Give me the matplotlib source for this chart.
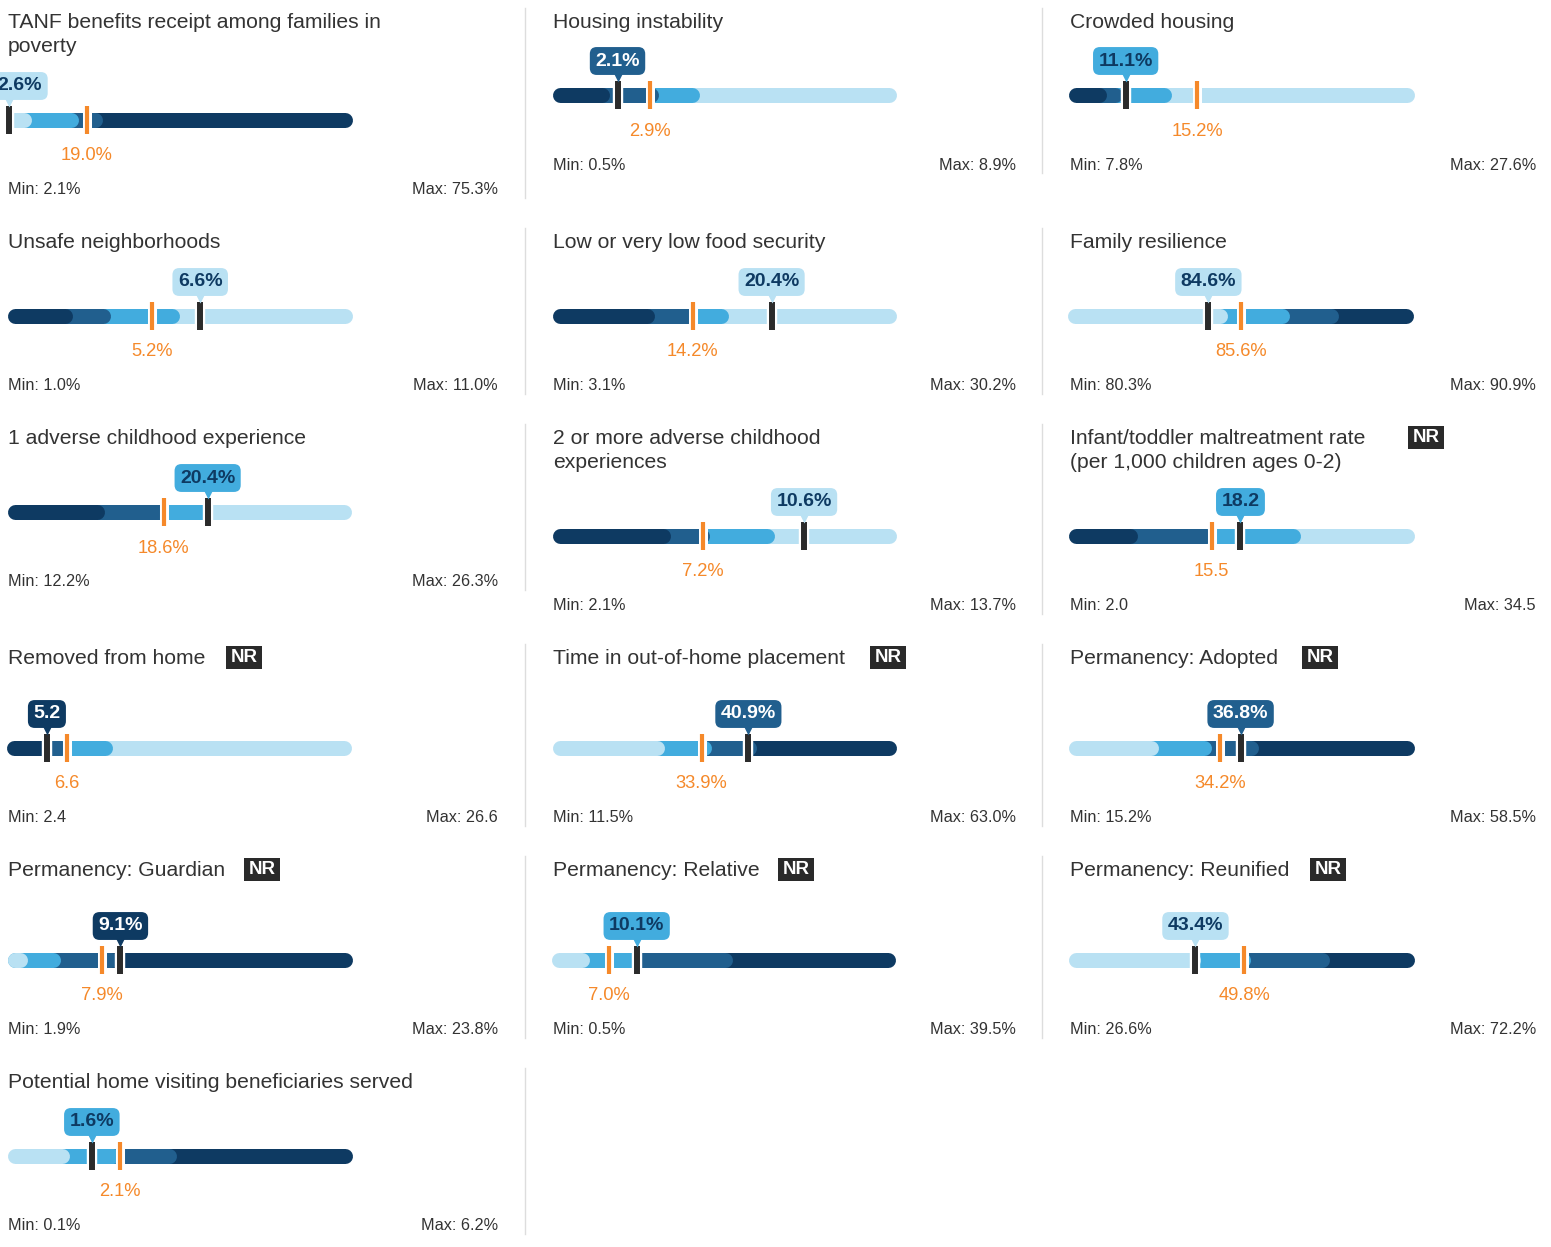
import matplotlib
matplotlib.use("Agg")
import matplotlib.pyplot as plt
from matplotlib.patches import Rectangle
from matplotlib.lines import Line2D

plt.rcParams['font.family'] = ['Liberation Sans', 'DejaVu Sans']

# ---- data ----
titles = [
    "TANF benefits receipt among families in\npoverty",
    "Housing instability",
    "Crowded housing",
    "Unsafe neighborhoods",
    "Low or very low food security",
    "Family resilience",
    "1 adverse childhood experience",
    "2 or more adverse childhood\nexperiences",
    "Infant/toddler maltreatment rate\n(per 1,000 children ages 0-2)",
    "Removed from home",
    "Time in out-of-home placement",
    "Permanency: Adopted",
    "Permanency: Guardian",
    "Permanency: Relative",
    "Permanency: Reunified",
    "Potential home visiting beneficiaries served",
]
mins = [2.1, 0.5, 7.8, 1.0, 3.1, 80.3, 12.2, 2.1, 2.0, 2.4, 11.5, 15.2, 1.9, 0.5, 26.6, 0.1]
maxs = [75.3, 8.9, 27.6, 11.0, 30.2, 90.9, 26.3, 13.7, 34.5, 26.6, 63.0, 58.5, 23.8, 39.5, 72.2, 6.2]
state_vals = [2.6, 2.1, 11.1, 6.6, 20.4, 84.6, 20.4, 10.6, 18.2, 5.2, 40.9, 36.8, 9.1, 10.1, 43.4, 1.6]
national_vals = [19.0, 2.9, 15.2, 5.2, 14.2, 85.6, 18.6, 7.2, 15.5, 6.6, 33.9, 34.2, 7.9, 7.0, 49.8, 2.1]
# quartile cut points (3 per indicator)
cuts = [
    [7.4, 17.2, 22.3],
    [1.9, 3.1, 4.1],
    [10.0, 10.9, 13.7],
    [2.9, 4.0, 6.0],
    [11.2, 14.4, 17.0],
    [85.2, 87.1, 88.6],
    [16.2, 18.8, 20.5],
    [6.1, 7.4, 9.6],
    [8.5, 15.7, 23.8],
    [5.3, 6.7, 9.8],
    [28.4, 35.4, 42.1],
    [26.5, 33.2, 39.0],
    [3.2, 5.3, 9.0],
    [4.8, 10.5, 21.0],
    [44.0, 50.6, 61.1],
    [1.2, 2.1, 3.1],
]
light_first = [True, False, False, False, False, True, False, False, False, False,
               True, True, True, True, True, True]
is_pct = [True] * 16
is_pct[8] = False
is_pct[9] = False
not_ranked = [False, False, False, False, False, False, False, False, True,
              True, True, True, True, True, True, False]

# ---- layout ----
W, H = 1551, 1247
bar_y = [120, 95, 95, 316, 316, 316, 512, 536, 536, 748, 748, 748, 960, 960, 960, 1156]
row_title_y = [21, 241, 437, 657, 869, 1081]
col_text_x = [8, 553, 1070]
col_bar_x0 = [7, 552, 1068]
col_bar_x1 = [352, 896, 1414]
col_max_x = [498, 1016, 1536]
divider_x = [525, 1042]
nr_x = {8: 1408, 9: 226, 10: 870, 11: 1302, 12: 244, 13: 778, 14: 1310}

DARK = '#0e3a62'
MID = '#215f8e'
SKY = '#42acde'
LIGHT = '#b9e1f3'
ORANGE = '#f5892a'
BLACK = '#2b2b2b'
TXT = '#333333'

fig = plt.figure(figsize=(W / 100, H / 100), dpi=100)


def fx(x):
    return x / W


def fy(y):
    return 1 - y / H


def fmt(v, pct):
    return f"{v:.1f}%" if pct else f"{v:.1f}"


for i in range(16):
    row, col = divmod(i, 3)
    by = bar_y[i]
    x0, x1 = col_bar_x0[col], col_bar_x1[col]
    mn, mx = mins[i], maxs[i]
    pct = is_pct[i]
    ty = row_title_y[row]

    # title
    for j, line in enumerate(titles[i].split("\n")):
        fig.text(fx(col_text_x[col]), fy(ty + 2 + 24 * j), line, fontsize=15.2,
                 color=TXT, ha='left', va='center')
    if not_ranked[i]:
        bx = nr_x[i]
        fig.add_artist(Rectangle((fx(bx), fy(ty + 11.5)), 36 / W, 23 / H,
                                 transform=fig.transFigure, fc='#2a2a2a', ec='none'))
        fig.text(fx(bx + 18), fy(ty + 1), "NR", fontsize=13.5, weight='bold',
                 color='white', ha='center', va='center')

    # min / max
    my = by + 68
    fig.text(fx(col_text_x[col]), fy(my + 2), "Min: " + fmt(mn, pct), fontsize=11.7,
             color=TXT, ha='left', va='center')
    fig.text(fx(col_max_x[col]), fy(my + 2), "Max: " + fmt(mx, pct), fontsize=11.7,
             color=TXT, ha='right', va='center')

    # divider
    if col < 2:
        fig.add_artist(Line2D([fx(divider_x[col])] * 2, [fy(ty - 13), fy(my + 10)],
                              transform=fig.transFigure, color='#dddddd', lw=1))

    ax = fig.add_axes([fx(x0), fy(by + 60), (x1 - x0) / W, 120 / H])
    ax.set_xlim(mn, mx)
    ax.set_ylim(60, -60)
    ax.axis('off')
    scale = (mx - mn) / (x1 - x0)
    r = 7.5 * scale
    cols = [LIGHT, SKY, MID, DARK] if light_first[i] else [DARK, MID, SKY, LIGHT]

    # quartile bands: each band starts under the rounded end of the previous one
    ends = cuts[i] + [mx]
    for k in range(4):
        start = mn + r if k == 0 else max(mn + r, ends[k - 1] - 2 * r)
        ax.plot([start, ends[k] - r], [0, 0], color=cols[k], lw=10.8,
                solid_capstyle='round', zorder=5 - k)

    # national marker
    nv = national_vals[i]
    ax.plot([nv, nv], [-14, 14], color='white', lw=6.5, solid_capstyle='butt', zorder=6)
    ax.plot([nv, nv], [-14, 14], color=ORANGE, lw=3.0, solid_capstyle='butt', zorder=7)
    ax.text(nv, 36, fmt(nv, pct), color=ORANGE, fontsize=13.2, ha='center',
            va='center', zorder=7)

    # state marker
    sv = state_vals[i]
    ax.plot([sv, sv], [-14, 14], color='white', lw=7.5, solid_capstyle='butt', zorder=8)
    ax.plot([sv, sv], [-14, 14], color=BLACK, lw=4.3, solid_capstyle='butt', zorder=9)

    q = sum(1 for c in cuts[i] if sv > c)
    bc = cols[q]
    tc = 'white' if bc in (DARK, MID) else DARK
    cx = max(sv, mn + 13 * scale)
    ax.text(cx, -34, fmt(sv, pct), fontsize=14, weight='bold', color=tc,
            ha='center', va='center', zorder=11,
            bbox=dict(boxstyle='round,pad=0.28,rounding_size=0.35', fc=bc, ec='none'))
    ax.plot(sv, -19, marker='v', ms=9, color=bc, mec='none', zorder=10)

    for t in ax.texts:
        t.set_clip_on(False)
    for l in ax.lines:
        l.set_clip_on(False)

fig.savefig("out.png", dpi=100, facecolor='white')
